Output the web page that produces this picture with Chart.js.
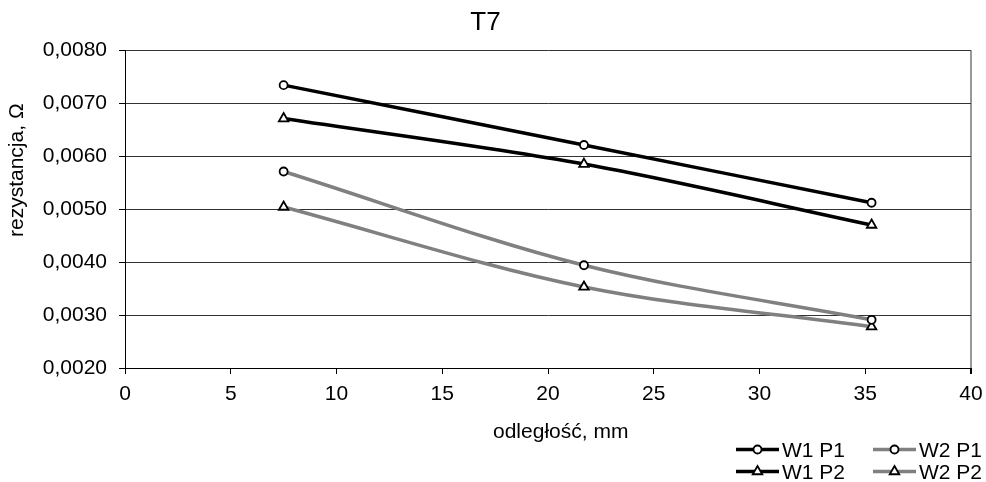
<!DOCTYPE html>
<html lang="pl">
<head>
<meta charset="utf-8">
<title>T7</title>
<script src="https://cdn.jsdelivr.net/npm/chart.js"></script>
<style>
  html, body { margin: 0; padding: 0; background: #fff; }
  #wrap { width: 986px; height: 482px; position: relative; }
</style>
</head>
<body>
<div id="wrap"><canvas id="chartT7"></canvas></div>
<script>
// odległość w mm, rezystancja w omach
const odleglosc = [7.5, 21.7, 35.3];
const w1p1 = [0.00734, 0.00621, 0.00512];
const w1p2 = [0.00671, 0.00585, 0.00470];
const w2p1 = [0.00571, 0.00394, 0.00291];
const w2p2 = [0.00504, 0.00353, 0.00278];
const xTicks = [0, 5, 10, 15, 20, 25, 30, 35, 40];
const yTicks = [0.002, 0.003, 0.004, 0.005, 0.006, 0.007, 0.008];

const FONT = "'Liberation Sans', Arial, sans-serif";
Chart.defaults.font.family = FONT;
Chart.defaults.font.size = 21;
Chart.defaults.color = '#000';

function punkty(values) {
    return odleglosc.map((x, i) => ({ x: x, y: values[i] }));
}

function seria(label, values, color, style) {
    return {
        label: label,
        data: punkty(values),
        borderColor: color,
        borderWidth: 3.5,
        pointStyle: style,
        pointRadius: style === 'triangle' ? 5.5 : 4,
        pointBorderWidth: 1.8,
        pointBorderColor: '#000',
        pointBackgroundColor: '#fff',
        tension: 0.33
    };
}

// znacznik do legendy (kółko albo trójkąt)
function znacznik(ctx, style, x, y, r) {
    ctx.beginPath();
    if (style === 'triangle') {
        ctx.moveTo(x, y - r);
        ctx.lineTo(x + r * Math.sin(2 * Math.PI / 3), y + r / 2);
        ctx.lineTo(x - r * Math.sin(2 * Math.PI / 3), y + r / 2);
        ctx.closePath();
    } else {
        ctx.arc(x, y, r, 0, 2 * Math.PI);
    }
    ctx.fillStyle = '#fff';
    ctx.fill();
    ctx.lineWidth = 1.8;
    ctx.strokeStyle = '#000';
    ctx.stroke();
}

// opisy osi i legenda 2x2 w prawym dolnym rogu
const opisy = {
    id: 'opisy',
    afterDraw(chart) {
        const ctx = chart.ctx;
        ctx.save();
        ctx.font = '21px ' + FONT;
        ctx.fillStyle = '#000';
        ctx.textAlign = 'left';
        ctx.textBaseline = 'alphabetic';
        ctx.fillText('odległość, mm', 493, 438);

        ctx.save();
        ctx.translate(23, 237);
        ctx.rotate(-Math.PI / 2);
        ctx.fillText('rezystancja, Ω', 0, 0);
        ctx.restore();

        chart.data.datasets.forEach((ds, i) => {
            const x0 = [736, 873][Math.floor(i / 2)];
            const y = [449.5, 471.5][i % 2];
            ctx.strokeStyle = ds.borderColor;
            ctx.lineWidth = ds.borderWidth;
            ctx.beginPath();
            ctx.moveTo(x0, y);
            ctx.lineTo(x0 + 43, y);
            ctx.stroke();
            znacznik(ctx, ds.pointStyle, x0 + 21.5, y, ds.pointRadius);
            ctx.fillStyle = '#000';
            ctx.fillText(ds.label, x0 + 46, y + 7);
        });
        ctx.restore();
    }
};

const ctxT7 = document.getElementById('chartT7');
const chartT7 = new Chart(ctxT7, {
    type: 'line',
    data: {
        datasets: [
            seria('W1 P1', w1p1, '#000', 'circle'),
            seria('W1 P2', w1p2, '#000', 'triangle'),
            seria('W2 P1', w2p1, '#808080', 'circle'),
            seria('W2 P2', w2p2, '#808080', 'triangle')
        ]
    },
    plugins: [opisy],
    options: {
        responsive: true,
        maintainAspectRatio: false,
        animation: false,
        layout: { padding: { left: 0, right: 15, top: 0, bottom: 0 } },
        plugins: {
            legend: { display: false },
            tooltip: { enabled: false },
            title: {
                display: true,
                text: 'T7',
                font: { size: 26, weight: 'normal' },
                color: '#000',
                padding: { top: 7, bottom: 12 }
            }
        },
        scales: {
            x: {
                type: 'linear',
                min: 0,
                max: 40,
                afterBuildTicks: (scale) => { scale.ticks = xTicks.map(v => ({ value: v })); },
                afterFit: (scale) => {
                    scale.height = 114;
                    scale.paddingLeft = 0;
                    scale.paddingRight = 0;
                },
                ticks: { padding: 8, maxRotation: 0 },
                border: { color: '#000', width: 1 },
                grid: {
                    drawOnChartArea: true,
                    tickLength: 6,
                    tickColor: '#000',
                    color: (c) => (c.tick && c.tick.value === 40) ? '#999' : 'rgba(0,0,0,0)',
                    lineWidth: (c) => (c.tick && c.tick.value === 40) ? 2 : 1
                }
            },
            y: {
                min: 0.002,
                max: 0.008,
                afterBuildTicks: (scale) => { scale.ticks = yTicks.map(v => ({ value: v })); },
                afterFit: (scale) => { scale.width = 125; },
                ticks: {
                    padding: 12,
                    callback: (v) => v.toFixed(4).replace('.', ',')
                },
                border: { color: '#000', width: 1 },
                grid: {
                    tickLength: 6,
                    tickColor: '#000',
                    color: '#333'
                }
            }
        }
    }
});
</script>
</body>
</html>
